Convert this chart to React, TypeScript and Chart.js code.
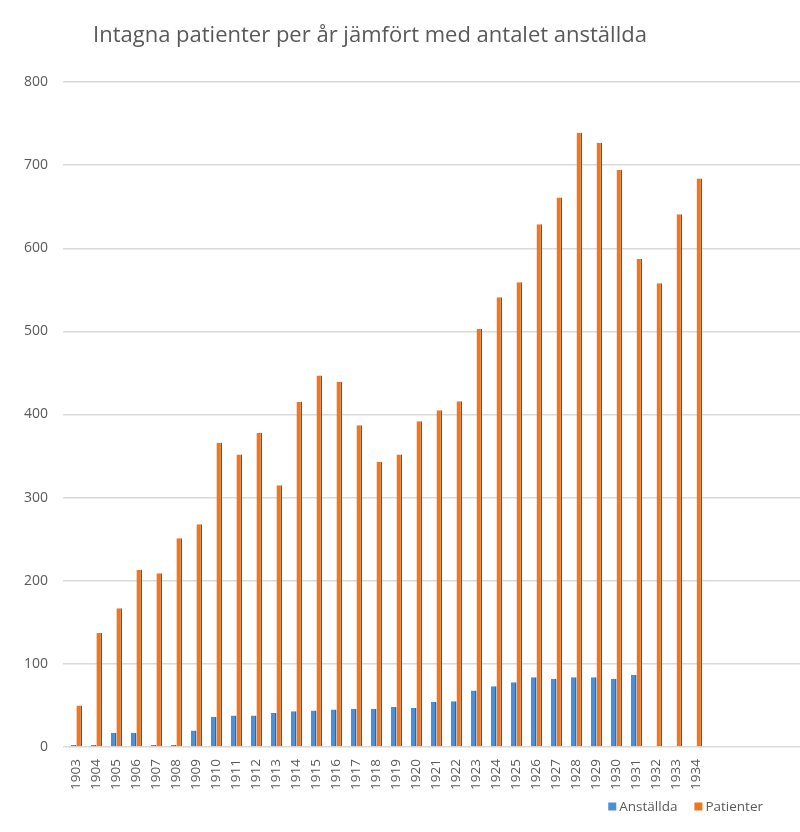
import React, { useEffect, useRef } from "react";
import { Chart, registerables } from "chart.js";

Chart.register(...registerables);

const TITLE = "Intagna patienter per år jämfört med antalet anställda";

const YEARS = [
  1903, 1904, 1905, 1906, 1907, 1908, 1909, 1910, 1911, 1912, 1913, 1914, 1915, 1916, 1917, 1918,
  1919, 1920, 1921, 1922, 1923, 1924, 1925, 1926, 1927, 1928, 1929, 1930, 1931, 1932, 1933, 1934,
];

const ANSTALLDA: (number | null)[] = [
  0, 0, 17, 17, 0, 0, 20, 36, 38, 38, 41, 43, 44, 45, 46, 46,
  48, 47, 54, 55, 68, 73, 78, 84, 82, 84, 84, 82, 87, null, null, null,
];

const PATIENTER = [
  50, 137, 167, 213, 209, 251, 268, 366, 352, 378, 315, 415, 447, 439, 387, 343,
  352, 392, 405, 416, 503, 541, 559, 629, 661, 739, 727, 694, 587, 558, 641, 684,
];

const SERIES_NAMES = ["Anställda", "Patienter"];
const Y_MAX = 800;
const Y_STEP = 100;

const FONT = "'Open Sans', 'Noto Sans', sans-serif";
const TEXT_COLOR = "#595959";

const titlePlugin = {
  id: "leftTitle",
  afterDraw(chart: any) {
    const ctx = chart.ctx;
    ctx.save();
    ctx.font = `22px ${FONT}`;
    ctx.fillStyle = TEXT_COLOR;
    ctx.textAlign = "left";
    ctx.textBaseline = "alphabetic";
    ctx.fillText(TITLE, 93, 42);
    ctx.restore();
  },
};

const legendPlugin = {
  id: "rightLegend",
  afterDraw(chart: any) {
    const ctx = chart.ctx;
    ctx.save();
    ctx.font = `13.5px ${FONT}`;
    ctx.textBaseline = "middle";
    ctx.textAlign = "left";
    const box = 8;
    const gapText = 3;
    const gapItem = 17;
    const items = chart.data.datasets.map((d: any) => ({
      label: d.label,
      color: d.backgroundColor,
      w: ctx.measureText(d.label).width,
    }));
    let total = 0;
    items.forEach((it: any, i: number) => {
      total += box + gapText + it.w + (i < items.length - 1 ? gapItem : 0);
    });
    let x = 763 - total;
    const cy = 806.5;
    items.forEach((it: any) => {
      ctx.fillStyle = it.color;
      ctx.fillRect(x, cy - box / 2, box, box);
      x += box + gapText;
      ctx.fillStyle = TEXT_COLOR;
      ctx.fillText(it.label, x, cy + 0.5);
      x += it.w + gapItem;
    });
    ctx.restore();
  },
};

function App() {
  const ref = useRef<HTMLCanvasElement | null>(null);

  useEffect(() => {
    if (!ref.current) return;
    Chart.defaults.font.family = FONT;
    Chart.defaults.color = TEXT_COLOR;
    const chart = new Chart(ref.current, {
      type: "bar",
      data: {
        datasets: [
          {
            label: SERIES_NAMES[0],
            data: YEARS.map((y, i) => ({ x: y, y: ANSTALLDA[i] })),
            backgroundColor: "#4a8fd8",
            borderColor: "#2f679f",
            borderWidth: { top: 0, left: 0, bottom: 0, right: 1.5 },
            borderSkipped: false,
            minBarLength: 2,
          },
          {
            label: SERIES_NAMES[1],
            data: YEARS.map((y, i) => ({ x: y, y: PATIENTER[i] })),
            backgroundColor: "#f0761f",
            borderColor: "#9c4712",
            borderWidth: { top: 0, left: 0, bottom: 0, right: 1.5 },
            borderSkipped: false,
          },
        ] as any,
      },
      options: {
        responsive: false,
        animation: false,
        devicePixelRatio: 1,
        layout: { padding: { top: 82, left: 0, right: 0, bottom: 0 } },
        datasets: { bar: { categoryPercentage: 0.56, barPercentage: 1 } } as any,
        plugins: {
          legend: { display: false },
          title: { display: false },
          tooltip: { enabled: false },
        },
        scales: {
          x: {
            type: "linear",
            min: 1902.33,
            max: 1939.17,
            offset: false,
            grid: { display: false, drawTicks: false },
            border: { display: false },
            afterBuildTicks: (scale: any) => {
              scale.ticks = YEARS.map((v) => ({ value: v }));
            },
            afterFit: (scale: any) => {
              scale.height = 85;
            },
            ticks: {
              autoSkip: false,
              maxRotation: 90,
              minRotation: 90,
              padding: 12,
              color: TEXT_COLOR,
              font: { size: 13.5, family: FONT },
              callback: (v: any) => String(v),
            },
          },
          y: {
            min: 0,
            max: Y_MAX,
            grid: { color: "#d9d9d9", lineWidth: 1.5, drawTicks: false },
            border: { display: false },
            afterFit: (scale: any) => {
              scale.width = 63;
            },
            ticks: {
              stepSize: Y_STEP,
              padding: 15,
              color: TEXT_COLOR,
              font: { size: 14, family: FONT },
              callback: (v: any) => String(v),
            },
          },
        },
      },
      plugins: [titlePlugin, legendPlugin],
    } as any);
    return () => chart.destroy();
  }, []);

  return (
    <div style={{ position: "absolute", left: 0, top: 0, width: 800, height: 832, background: "#fff" }}>
      <canvas ref={ref} width={800} height={832} style={{ display: "block" }} />
    </div>
  );
}

export default App;
